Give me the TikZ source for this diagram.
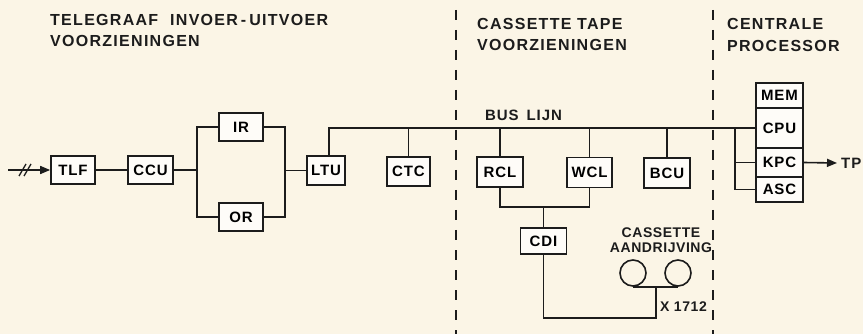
\documentclass[tikz,border=0pt]{standalone}
\usepackage{fontspec}
\setmainfont{Liberation Sans}
\usetikzlibrary{arrows.meta}
\definecolor{paper}{HTML}{FBF5E6}
\definecolor{ink}{HTML}{1C1C1C}
\begin{document}
\begin{tikzpicture}[x=1pt,y=-1pt,
  wire/.style={draw=ink, line width=1.6pt},
  blk/.style={draw=ink, line width=1.6pt, fill=white!70!paper, minimum height=28pt, inner sep=0pt,
    font=\bfseries\fontsize{15}{15}\selectfont\addfontfeature{LetterSpace=6}},
  stk/.style={blk, minimum width=47pt},
  title/.style={anchor=base west, inner sep=0pt, align=left, text=ink,
    font=\bfseries\fontsize{16}{21.5}\selectfont\addfontfeature{LetterSpace=8}},
  lbl/.style={inner sep=0pt, text=ink, font=\bfseries\fontsize{14}{15.5}\selectfont\addfontfeature{LetterSpace=4}},
  sep/.style={draw=ink, line width=1.4pt, dash pattern=on 10pt off 10pt},
  reel/.style={circle, draw=ink, line width=1.6pt, minimum size=26pt, inner sep=0pt},
  arr/.style={wire, -{Triangle[length=10pt,width=8pt]}}
]
\fill[paper] (0,0) rectangle (863,334);
\useasboundingbox (0,0) rectangle (863,334);

% section separators
\coordinate (s1t) at (456,10); \coordinate (s1b) at (456,334);
\coordinate (s2t) at (713,10); \coordinate (s2b) at (713,334);
\draw[sep] (s1t) -- (s1b);
\draw[sep] (s2t) -- (s2b);

% titles (base anchor = last line)
\node[title] (t1) at (50,47) {TELEGRAAF\hspace{12pt}INVOER\hspace{3pt}-\hspace{3pt}UITVOER\\VOORZIENINGEN};
\node[title] (t2) at (477,51) {CASSETTE TAPE\\VOORZIENINGEN};
\node[title] (t3) at (727,51.5) {CENTRALE\\PROCESSOR};

% blocks
\node[blk, minimum width=44pt] (tlf) at (73,170) {TLF};
\node[blk, minimum width=45pt] (ccu) at (150.5,170) {CCU};
\node[blk, minimum width=44pt] (ir) at (241,127) {IR};
\node[blk, minimum width=44pt] (or) at (241,217) {OR};
\node[blk, minimum width=38pt, minimum height=29pt] (ltu) at (326,170.5) {LTU};
\node[blk, minimum width=43pt, minimum height=29pt] (ctc) at (408.5,171.5) {CTC};
\node[blk, minimum width=46pt, minimum height=30pt] (rcl) at (500,172) {RCL};
\node[blk, minimum width=45pt, minimum height=30pt] (wcl) at (589.5,172.5) {WCL};
\node[blk, minimum width=46pt, minimum height=30pt] (bcu) at (667,173) {BCU};
\node[blk, minimum width=46pt, minimum height=26pt] (cdi) at (543.5,241) {CDI};

\node[stk, minimum height=25pt] (mem) at (779.5,95.5) {MEM};
\node[stk, minimum height=40pt] (cpu) at (779.5,128) {CPU};
\node[stk, minimum height=29pt] (kpc) at (779.5,162.5) {KPC};
\node[stk, minimum height=25pt] (asc) at (779.5,189.5) {ASC};

% reels
\node[reel] (r1) at (633,273) {};
\node[reel] (r2) at (678,273) {};

% labels
\node[lbl, anchor=base west, font=\bfseries\fontsize{15}{15}\selectfont\addfontfeature{LetterSpace=6}] (bus) at (485,120.5) {BUS\hspace{8pt}LIJN};
\node[lbl, align=center] (cass) at (661,240) {CASSETTE\\AANDRIJVING};
\node[lbl, anchor=base west] (x1712) at (660,311.5) {X 1712};
\node[lbl, anchor=west, font=\bfseries\fontsize{15}{15}\selectfont\addfontfeature{LetterSpace=6}] (tp) at (841,163) {TP};

% input
\coordinate (in) at (8,170);
\draw[arr] (in) -- (tlf.west);
\coordinate (sa1) at (19,176); \coordinate (sa2) at (26,164);
\coordinate (sb1) at (24,176); \coordinate (sb2) at (31,164);
\draw[wire, line width=1.3pt] (sa1) -- (sa2);
\draw[wire, line width=1.3pt] (sb1) -- (sb2);

% left chain
\coordinate (jl) at (197,170);
\coordinate (jr) at (285,170.5);
\draw[wire] (tlf.east) -- (ccu.west);
\draw[wire] (ccu.east) -- (jl);
\draw[wire] (ir.west) -| (jl) |- (or.west);
\draw[wire] (ir.east) -| (jr) |- (or.east);
\draw[wire] (jr) -- (ltu.west);

% bus
\coordinate (busl) at (329,128);
\draw[wire] (ltu.north -| busl) -- (busl) -- (cpu.west);
\draw[wire] (ctc.north) -- (ctc.north |- busl);
\draw[wire] (rcl.north) -- (rcl.north |- busl);
\draw[wire] (wcl.north) -- (wcl.north |- busl);
\draw[wire] (bcu.north) -- (bcu.north |- busl);

% processor side
\coordinate (pv) at (735,128);
\draw[wire] (pv) |- (asc.west);
\draw[wire] (pv |- kpc.west) -- (kpc.west);
\coordinate (tpe) at (837,163);
\draw[arr] (kpc.east) -- (tpe);

% cassette side
\coordinate (cj) at (543.5,207);
\draw[wire] (rcl.south) |- (cj);
\draw[wire] (wcl.south) |- (cj);
\draw[wire] (cj) -- (cdi.north);
\coordinate (tb) at (656,286);
\coordinate (cb) at (656,318);
\draw[wire] (r1.south) -- (r2.south);
\draw[wire] (cdi.south) |- (cb) -- (tb);
\end{tikzpicture}
\end{document}
